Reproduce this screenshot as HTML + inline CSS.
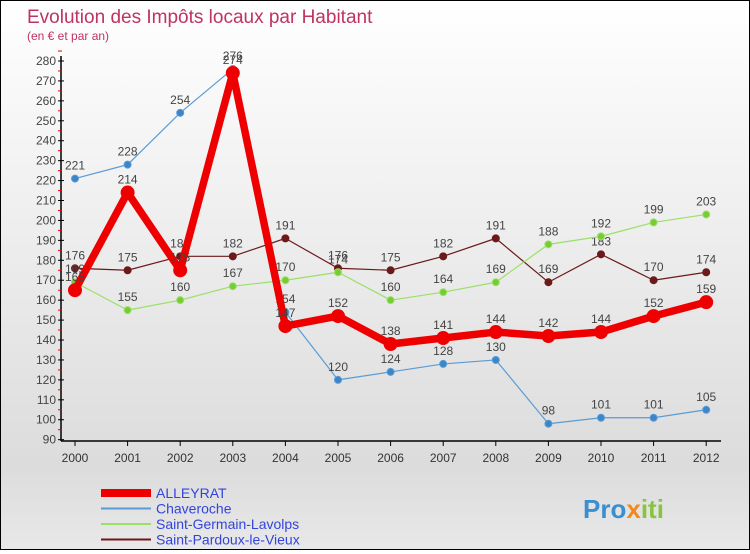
<!DOCTYPE html>
<html><head><meta charset="utf-8"><style>
body{margin:0;width:750px;height:550px;overflow:hidden;font-family:"Liberation Sans",sans-serif}
#wrap{position:relative;width:748px;height:548px;border:1px solid #000;background:linear-gradient(#fff,#dcdcdc 85%,#e8e8e8)}
</style></head><body>
<div id="wrap">
<svg id="chart" width="748" height="548"></svg>
</div>
<script>
const years=[2000,2001,2002,2003,2004,2005,2006,2007,2008,2009,2010,2011,2012];
const alleyrat=[165,214,175,274,147,152,138,141,144,142,144,152,159];
const chaveroche=[221,228,254,276,154,120,124,128,130,98,101,101,105];
const stGermain=[169,155,160,167,170,174,160,164,169,188,192,199,203];
const stPardoux=[176,175,182,182,191,176,175,182,191,169,183,170,174];
const yTicks=[90,100,110,120,130,140,150,160,170,180,190,200,210,220,230,240,250,260,270,280];
const NS="http://www.w3.org/2000/svg";
const svg=document.getElementById('chart');
const X=i=>74+i*52.6;
const Y=v=>60+(280-v)*1.993;
function mk(t,a,txt,parent){const e=document.createElementNS(NS,t);for(const k in a)e.setAttribute(k,a[k]);if(txt!==undefined)e.textContent=txt;(parent||svg).appendChild(e);return e;}
let e;
e=mk('text',{x:26,y:22,fill:'#c0335f','font-size':19},'Evolution des Impôts locaux par Habitant');


e=mk('text',{x:26,y:39,fill:'#c0335f','font-size':12},'(en € et par an)');


e=mk('line',{x1:60,y1:55,x2:60,y2:440,stroke:'#000','stroke-width':1.5});


e=mk('line',{x1:60,y1:440,x2:720,y2:440,stroke:'#000','stroke-width':1.5});


yTicks.forEach(v=>{
 e=mk('line',{x1:57,y1:Y(v),x2:63,y2:Y(v),stroke:'#000'});
 
 
 e=mk('line',{x1:57,y1:Y(v+5),x2:61,y2:Y(v+5),stroke:'#e00'});
 
 
 e=mk('text',{x:55,y:Y(v)+4,'text-anchor':'end','font-size':12,fill:'#444'},v);
 
 
});
years.forEach((yr,i)=>{
 e=mk('line',{x1:X(i),y1:440,x2:X(i),y2:445,stroke:'#000'});
 
 
 e=mk('text',{x:X(i),y:461,'text-anchor':'middle','font-size':12,fill:'#333'},yr);
 
 
});
function series(data,color,w,r,name,fill){
 const g=mk('g',{});
 
 
 e=mk('polyline',{points:data.map((v,i)=>X(i)+','+Y(v)).join(' '),fill:'none',stroke:color,'stroke-width':w,'stroke-linejoin':'round'});
 
 
 data.forEach((v,i)=>{
  e=mk('circle',{cx:X(i),cy:Y(v),r:r,fill:fill,stroke:color,'stroke-width':1});
  
  
  e=mk('text',{x:X(i),y:Y(v)-9,'text-anchor':'middle','font-size':12,fill:'#444'},v);
  
  
 });
}
series(stPardoux,'#6b1a1a',1.2,3.5,'saint-pardoux','#6b1a1a');
series(stGermain,'#99e066',1.2,3.5,'saint-germain','#77cc33');
series(chaveroche,'#5b9bd5',1.2,3.5,'chaveroche','#3a86c8');
series(alleyrat,'#ee0000',7.5,6.5,'alleyrat','#ee0000');
const legend=[['ALLEYRAT','#ee0000',8],['Chaveroche','#5b9bd5',2],['Saint-Germain-Lavolps','#99e066',2],['Saint-Pardoux-le-Vieux','#6b1a1a',2]];
legend.forEach((l,i)=>{
 const y=492+i*15.5;
 e=mk('line',{x1:100,y1:y,x2:150,y2:y,stroke:l[1],'stroke-width':l[2]});
 
 
 e=mk('text',{x:155,y:y+5,'font-size':14,fill:'#3344dd'},l[0]);
 
 
});
const logo=mk('text',{x:582,y:517,'font-size':26,'font-weight':'bold'});


mk('tspan',{fill:'#3a8fd0'},'Pro',logo);
mk('tspan',{fill:'#f08a20'},'x',logo);
mk('tspan',{fill:'#88c440'},'iti',logo);
</script>
</body></html>
